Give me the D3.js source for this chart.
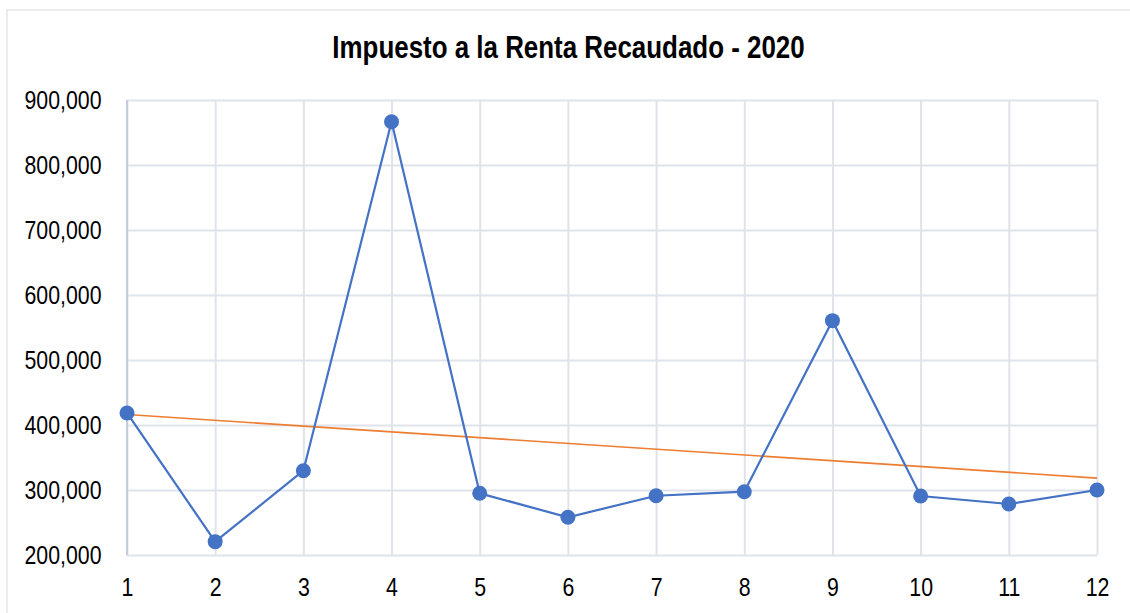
<!DOCTYPE html>
<html><head><meta charset="utf-8">
<script src="https://cdn.jsdelivr.net/npm/d3@7"></script>
<style>
html,body{margin:0;padding:0;background:#fff;}
svg text{font-family:"Liberation Sans Narrow","Arial Narrow","Liberation Sans",sans-serif;}
</style></head>
<body>
<svg id="chart" width="1130" height="613"></svg>
<script>
const title = "Impuesto a la Renta Recaudado - 2020";
const months = [1,2,3,4,5,6,7,8,9,10,11,12];
const values = [418500,220500,329700,866600,294900,258000,291200,297400,560500,290800,278500,300000];
const yTicks = [200000,300000,400000,500000,600000,700000,800000,900000];

const svg = d3.select("#chart");
const W = 1130, H = 613;
const m = {left:127, right:1097, top:100, bottom:555};
const narrow = 0.82;

svg.append("rect").attr("x",7).attr("y",10).attr("width",W+10).attr("height",H+10)
  .attr("fill","#fff").attr("stroke","#d9d9d9").attr("stroke-width",1);

const x = d3.scaleLinear().domain([1,12]).range([m.left,m.right]);
const y = d3.scaleLinear().domain([200000,900000]).range([m.bottom,m.top]);

// gridlines
const gy = svg.append("g").attr("transform",`translate(${m.left},0)`)
  .call(d3.axisLeft(y).tickValues(yTicks).tickSize(-(m.right-m.left)).tickFormat(""));
gy.select(".domain").remove();
gy.selectAll("line").attr("stroke","#dfe3ea").attr("stroke-width",2);

const gx = svg.append("g").attr("transform",`translate(0,${m.bottom})`)
  .call(d3.axisBottom(x).tickValues(months).tickSize(-(m.bottom-m.top)).tickFormat(""));
gx.select(".domain").remove();
gx.selectAll("line").attr("stroke","#dfe3ea").attr("stroke-width",2);

// left axis line
svg.append("line").attr("x1",m.left).attr("x2",m.left).attr("y1",m.top).attr("y2",m.bottom)
  .attr("stroke","#c3cddd").attr("stroke-width",2);

// tick labels
const fmt = d3.format(",");
const ya = svg.append("g").attr("transform",`translate(${m.left-23},0)`)
  .call(d3.axisLeft(y).tickValues(yTicks).tickSize(0).tickFormat(fmt));
ya.select(".domain").remove();
ya.selectAll("text").attr("font-size",26).attr("fill","#000")
  .attr("transform",`scale(${narrow},1)`);

const xa = svg.append("g").attr("transform",`translate(0,${m.bottom+20})`)
  .call(d3.axisBottom(x).tickValues(months).tickSize(0).tickFormat(d3.format("d")));
xa.select(".domain").remove();
xa.selectAll("text").attr("font-size",26).attr("fill","#000")
  .attr("transform",`scale(${narrow},1)`);

// trendline (least squares from data)
const mx = d3.mean(months), my = d3.mean(values);
const slope = d3.sum(months,(d,i)=>(d-mx)*(values[i]-my))/d3.sum(months,d=>(d-mx)*(d-mx));
const icpt = my - slope*mx;
const trend = [1,12].map(d=>[d, icpt+slope*d]);
svg.append("path").datum(trend)
  .attr("d",d3.line().x(d=>x(d[0])).y(d=>y(d[1])))
  .attr("fill","none").attr("stroke","#ED7D31").attr("stroke-width",1.6);

// series line
const pts = months.map((d,i)=>[d,values[i]]);
svg.append("path").datum(pts)
  .attr("d",d3.line().x(d=>x(d[0])).y(d=>y(d[1])))
  .attr("fill","none").attr("stroke","#4472C4").attr("stroke-width",2.2);
svg.selectAll("circle.pt").data(pts).enter().append("circle")
  .attr("class","pt").attr("cx",d=>x(d[0])).attr("cy",d=>y(d[1])).attr("r",7.5)
  .attr("fill","#4472C4");

svg.append("g").attr("transform","translate(568.5,58) scale(0.81,1)")
  .append("text").attr("x",0).attr("y",0).attr("text-anchor","middle")
  .attr("font-size",32).attr("font-weight","bold").attr("fill","#000").text(title);
</script>
</body></html>
